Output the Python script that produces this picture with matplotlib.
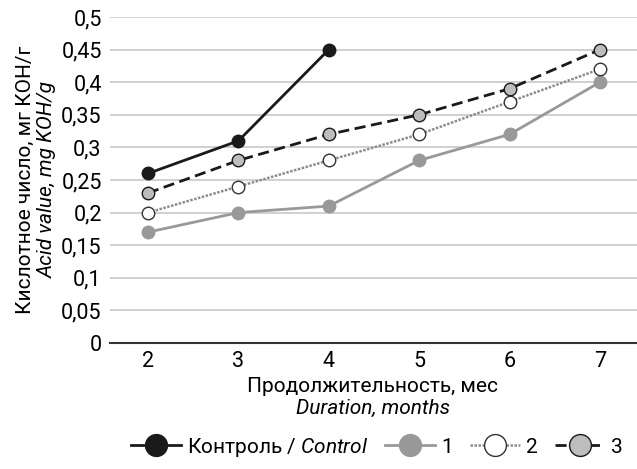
import matplotlib
matplotlib.use("Agg")
import matplotlib.pyplot as plt
from matplotlib import font_manager

# узкий шрифт, если есть; иначе Roboto
names = {f.name for f in font_manager.fontManager.ttflist}
FONT = "Liberation Sans Narrow" if "Liberation Sans Narrow" in names else "Roboto"

plt.rcParams["font.family"] = [FONT, "DejaVu Sans"]
plt.rcParams["mathtext.fontset"] = "custom"
plt.rcParams["mathtext.it"] = FONT + ":italic"
plt.rcParams["mathtext.rm"] = FONT

months = [2, 3, 4, 5, 6, 7]
control = [0.26, 0.31, 0.45]
series1 = [0.17, 0.20, 0.21, 0.28, 0.32, 0.40]
series2 = [0.20, 0.24, 0.28, 0.32, 0.37, 0.42]
series3 = [0.23, 0.28, 0.32, 0.35, 0.39, 0.45]
yticks = [0, 0.05, 0.1, 0.15, 0.2, 0.25, 0.3, 0.35, 0.4, 0.45, 0.5]

fig = plt.figure(figsize=(6.37, 4.69), dpi=100)
ax = fig.add_axes([110 / 637, 1 - 343 / 469, 527 / 637, 326 / 469])

ax.plot(months[:3], control, color="#1a1a1a", lw=2, marker="o", ms=9,
        mfc="#1a1a1a", mec="#1a1a1a", label="Контроль / $\\it{Control}$", zorder=5)
ax.plot(months, series1, color="#999999", lw=2, marker="o", ms=9,
        mfc="#999999", mec="#999999", label="1", zorder=3)
ax.plot(months, series2, color="#8c8c8c", lw=1.8, ls=(0, (1, 0.6)), marker="o", ms=9,
        mfc="white", mec="#333333", mew=1, label="2", zorder=4)
ax.plot(months, series3, color="#1a1a1a", lw=2, ls=(0, (4, 2)), marker="o", ms=9,
        mfc="#bdbdbd", mec="#1a1a1a", mew=1, label="3", zorder=4)

ax.set_xlim(1.58, 7.41)
ax.set_ylim(0, 0.5)
ax.set_xticks(months)
ax.set_yticks(yticks)
ax.set_yticklabels([("%g" % v).replace(".", ",") for v in yticks])
ax.tick_params(length=0, labelsize=15.5)
ax.tick_params(axis="x", pad=6)
ax.tick_params(axis="y", pad=6)
ax.grid(axis="y", color="#c8c8c8", lw=1.2)
ax.set_axisbelow(True)
for s in ["top", "right", "left"]:
    ax.spines[s].set_visible(False)
ax.spines["bottom"].set_color("#333333")
ax.spines["bottom"].set_linewidth(1.5)

fig.text(25 / 637, 1 - 180 / 469, "Кислотное число, мг КОН/г", rotation=90,
         ha="center", va="center", fontsize=15)
fig.text(47 / 637, 1 - 180 / 469, "Acid value, mg KOH/g", rotation=90,
         ha="center", va="center", fontsize=15, style="italic")
fig.text(373 / 637, 1 - 386 / 469, "Продолжительность, мес",
         ha="center", va="center", fontsize=15)
fig.text(373 / 637, 1 - 408 / 469, "Duration, months",
         ha="center", va="center", fontsize=15, style="italic")

fig.legend(loc="center", bbox_to_anchor=(377 / 637, 1 - 447 / 469), ncol=4, frameon=False,
           fontsize=15, handlelength=2.4, columnspacing=0.8, handletextpad=0.3,
           markerscale=1.75)

fig.savefig("out.png", dpi=100)
